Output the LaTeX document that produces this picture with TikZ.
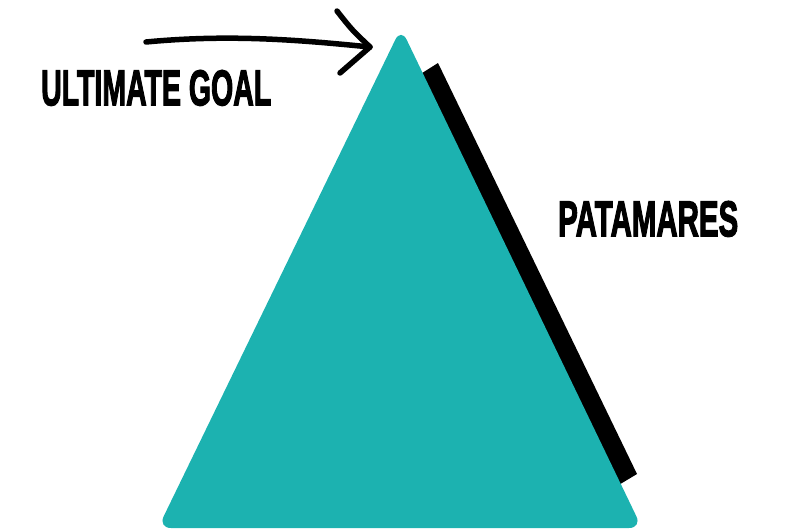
\documentclass[tikz,border=0pt]{standalone}
\usepackage{fontspec}
\setmainfont{Liberation Sans}[FakeBold=3]
\usepackage{tikz}
\usepackage{xcolor}
\definecolor{pyramidteal}{HTML}{1CB2B0}
\tikzset{
    pyramid/.style = {fill=pyramidteal, rounded corners=13pt},
    side-bar/.style = {fill=black},
    hand-arrow/.style = {draw=black, line width=5.5pt, line cap=round, line join=round},
    big-label/.style = {inner sep=0pt, anchor=north west, text=black},
}

\begin{document}
\begin{tikzpicture}[x=1pt, y=-1pt]
\useasboundingbox (0,0) rectangle (800,530);
% corners of the pyramid
\coordinate (apex) at (401,28);
\coordinate (left) at (158,528);
\coordinate (right) at (642,528);
% black bar along the right side
\fill[side-bar] (419,75) -- (438,63) -- (637,474) -- (617,486) -- cycle;
\fill[pyramid] (apex) -- (left) -- (right) -- cycle;
% arrow to the top
\coordinate (tail) at (146,42);
\coordinate (tip) at (370,47);
\draw[hand-arrow] (tail) .. controls (230,34) and (300,40) .. (tip);
\draw[hand-arrow] (337,11) .. controls (352,30) .. (tip) -- (340,73);
\node[big-label] (goal) at (41,70) {\resizebox{230pt}{35pt}{\bfseries ULTIMATE GOAL}};
\node[big-label] (steps) at (558,201) {\resizebox{180pt}{35pt}{\bfseries PATAMARES}};
\end{tikzpicture}
\end{document}
